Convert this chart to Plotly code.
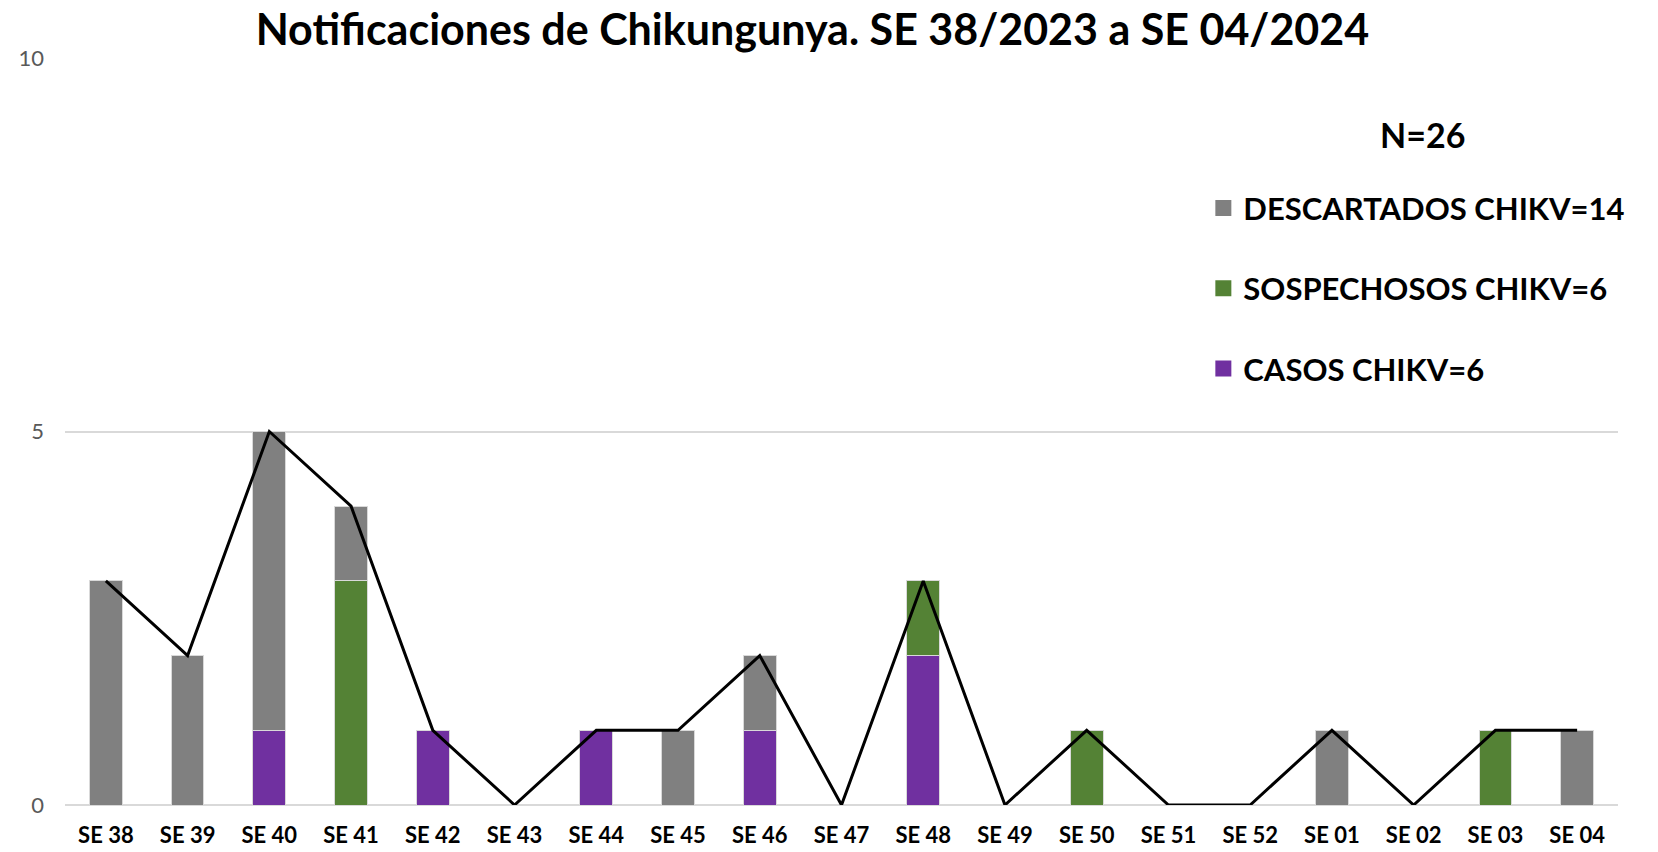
import plotly.graph_objects as go

semanas = ["SE 38", "SE 39", "SE 40", "SE 41", "SE 42", "SE 43", "SE 44", "SE 45", "SE 46", "SE 47",
           "SE 48", "SE 49", "SE 50", "SE 51", "SE 52", "SE 01", "SE 02", "SE 03", "SE 04"]
casos = [0, 0, 1, 0, 1, 0, 1, 0, 1, 0, 2, 0, 0, 0, 0, 0, 0, 0, 0]
sospechosos = [0, 0, 0, 3, 0, 0, 0, 0, 0, 0, 1, 0, 1, 0, 0, 0, 0, 1, 0]
descartados = [3, 2, 4, 1, 0, 0, 0, 1, 1, 0, 0, 0, 0, 0, 0, 1, 0, 0, 1]
total = [3, 2, 5, 4, 1, 0, 1, 1, 2, 0, 3, 0, 1, 0, 0, 1, 0, 1, 1]

series = [
    ("CASOS CHIKV=6", casos, "#7030A0"),
    ("SOSPECHOSOS CHIKV=6", sospechosos, "#548235"),
    ("DESCARTADOS CHIKV=14", descartados, "#808080"),
]

FONT = "Lato"
fig = go.Figure()
for name, vals, color in series:
    fig.add_trace(go.Bar(
        x=semanas, y=vals, name=name, showlegend=False,
        marker=dict(color=color, line=dict(color="#D9D9D9", width=1)),
        width=0.4,
    ))

fig.add_trace(go.Scatter(
    x=semanas, y=total, mode="lines", showlegend=False,
    line=dict(color="black", width=3), hoverinfo="skip",
))

# legend entries (top to bottom)
for name, vals, color in reversed(series):
    fig.add_trace(go.Scatter(
        x=[None], y=[None], mode="markers", name=name, legendgroup=name,
        marker=dict(symbol="square", size=22, color=color),
    ))

fig.update_layout(
    width=1658, height=852,
    barmode="stack",
    plot_bgcolor="white", paper_bgcolor="white",
    margin=dict(l=65, r=40, t=58, b=47),
    font=dict(family=FONT),
    title=dict(
        text="<b>Notificaciones de Chikungunya. SE 38/2023 a SE 04/2024</b>",
        x=0.49, xanchor="center", y=0.965, yanchor="middle",
        font=dict(family=FONT, size=43, color="black"),
    ),
    xaxis=dict(
        showgrid=False, showline=False, ticks="", automargin=False,
        tickfont=dict(family=FONT, size=22, color="black", weight="bold"),
        range=[-0.5, 18.5], ticklabelstandoff=15,
    ),
    yaxis=dict(
        range=[0, 10], tickvals=[0, 5, 10], automargin=False,
        showgrid=True, gridcolor="#D9D9D9", gridwidth=1.5,
        zeroline=True, zerolinecolor="#D9D9D9", zerolinewidth=2,
        tickfont=dict(family=FONT, size=22, color="#595959"),
        ticks="", ticklabelstandoff=20,
    ),
    legend=dict(
        x=0.733, y=0.835, xanchor="left", yanchor="top",
        font=dict(family=FONT, size=31, color="black", weight="bold"),
        traceorder="grouped", tracegroupgap=37,
        bgcolor="rgba(0,0,0,0)",
        itemwidth=30,
    ),
    annotations=[dict(
        text="<b>N=26</b>", xref="paper", yref="paper",
        x=0.874, y=0.898, xanchor="center", yanchor="middle",
        showarrow=False, font=dict(family=FONT, size=34, color="black"),
    )],
)

fig.write_html("out.html", config={"displayModeBar": False},
               post_script="document.body.style.margin='0';")
